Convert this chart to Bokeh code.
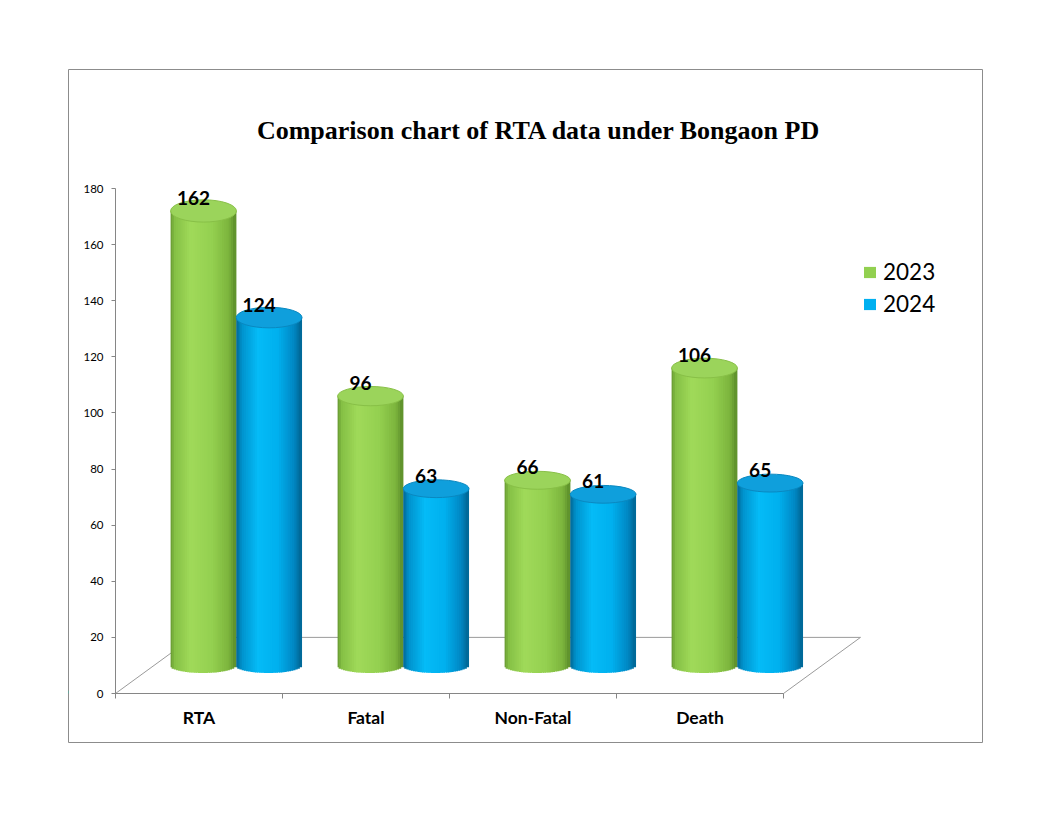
import numpy as np
from bokeh.plotting import figure
from bokeh.models import Range1d, FixedTicker, Legend, LegendItem, Label, ColumnDataSource
from bokeh.embed import file_html
from bokeh.resources import INLINE
from bokeh.core.properties import value

# ---------------- data ----------------
categories = ["RTA", "Fatal", "Non-Fatal", "Death"]
series_names = ["2023", "2024"]
values_2023 = [162, 96, 66, 106]
values_2024 = [124, 63, 61, 65]
y_ticks = [0, 20, 40, 60, 80, 100, 120, 140, 160, 180]
title_text = "Comparison chart of RTA data under Bongaon PD"

# ---------------- styling / geometry constants ----------------
W, H = 1046, 806
PX_PER_X = 167.0            # px per category slot
PX_PER_Y = 505.0 / 180.0    # px per y unit
X0, X1 = -47 / PX_PER_X, 867 / PX_PER_X
Y0, Y1 = -49 / PX_PER_Y, 624 / PX_PER_Y
DEPTH_DX = 77 / PX_PER_X    # 3-D floor depth (x)
DEPTH_DY = 20               # 3-D floor depth (y units)
BASE = DEPTH_DY / 2         # bars stand mid-depth
SHIFT = [0.527, 0.920]      # bar centre offsets within slot
BAR_W = 0.394
NSTRIP = 30
OVERLAP = 0.007

green_stops = [(-1.0, "#5f8f2c"), (-0.85, "#84bf44"), (-0.35, "#a0da5a"),
               (0.3, "#94d050"), (0.8, "#7cb53d"), (1.0, "#5c8d2a")]
blue_stops = [(-1.0, "#005a84"), (-0.8, "#0092cc"), (-0.3, "#05bbf7"),
              (0.3, "#00b0ee"), (0.8, "#0086c2"), (1.0, "#006592")]
top_colors = ["#9bd45b", "#0f9fdc"]
top_lines = ["#88c047", "#0a88c0"]
legend_colors = ["#92D050", "#00B0F0"]


def hex2rgb(h):
    h = h.lstrip("#")
    return np.array([int(h[i:i + 2], 16) for i in (0, 2, 4)], dtype=float)


def shade(stops, u):
    us = [s[0] for s in stops]
    cs = np.array([hex2rgb(s[1]) for s in stops])
    rgb = [np.interp(u, us, cs[:, k]) for k in range(3)]
    return "#%02x%02x%02x" % tuple(int(round(c)) for c in rgb)


p = figure(width=W, height=H, output_backend="svg", toolbar_location=None,
           x_range=Range1d(X0, X1), y_range=Range1d(Y0, Y1),
           min_border_left=68, min_border_right=64, min_border_top=69,
           min_border_bottom=64)
p.grid.visible = False
p.outline_line_color = "#8c8c8c"
p.outline_line_width = 1
p.background_fill_color = "white"
p.border_fill_color = "white"

# floor (3-D base)
n_cat = len(categories)
p.patch([0, n_cat, n_cat + DEPTH_DX, DEPTH_DX], [0, 0, DEPTH_DY, DEPTH_DY],
        fill_alpha=0, line_color="#9a9a9a", line_width=1)

# cylinders
series_vals = [values_2023, values_2024]
legend_items = []
for s, vals in enumerate(series_vals):
    stops = green_stops if s == 0 else blue_stops
    left, right, bottom, top, color = [], [], [], [], []
    cx_list, top_list, eh_list = [], [], []
    for i, v in enumerate(vals):
        cx = i + SHIFT[s]
        ytop = BASE + v
        for k in range(NSTRIP):
            u0 = -1 + 2 * k / NSTRIP
            u1 = -1 + 2 * (k + 1) / NSTRIP
            um = (u0 + u1) / 2
            left.append(cx + u0 * BAR_W / 2 - (OVERLAP if k > 0 else 0))
            right.append(cx + u1 * BAR_W / 2)
            bottom.append(BASE - 7.5 * np.sqrt(max(0.0, 1 - um * um)) / PX_PER_Y)
            top.append(ytop)
            color.append(shade(stops, um))
        cx_list.append(cx)
        top_list.append(ytop)
        eh_list.append(2 * (7.5 + 0.008 * v * PX_PER_Y))
    src = ColumnDataSource(dict(left=left, right=right, bottom=bottom, top=top, color=color))
    p.quad(left="left", right="right", bottom="bottom", top="top", fill_color="color",
           line_color=None, source=src)
    tsrc = ColumnDataSource(dict(x=cx_list, y=top_list, h=eh_list,
                                 lab=[str(v) for v in vals]))
    p.ellipse(x="x", y="y", width=BAR_W, height="h", height_units="screen",
              fill_color=top_colors[s], line_color=top_lines[s], line_width=1, source=tsrc)
    p.text(x="x", y="y", text="lab", source=tsrc, x_offset=-10, y_offset=-13,
           text_align="center", text_baseline="middle", text_font=value("Lato"),
           text_font_style="bold", text_font_size="19px", text_color="black")
    # legend swatch renderer (kept outside the visible range)
    dummy = p.vbar(x=[-5], top=[1], width=0.1, fill_color=legend_colors[s], line_color=None)
    legend_items.append(LegendItem(label=series_names[s], renderers=[dummy]))

legend = Legend(items=legend_items, location=(794, 425), orientation="vertical",
                label_text_font="Lato", label_text_font_size="22.5px",
                label_text_color="black", glyph_width=15, glyph_height=14,
                label_height=26, spacing=5, padding=0, margin=0,
                label_standoff=6, border_line_color=None, background_fill_alpha=0)
p.add_layout(legend)

# axes
yax = p.yaxis[0]
yax.fixed_location = 0
yax.bounds = (0, 180)
yax.ticker = FixedTicker(ticks=y_ticks)
yax.axis_line_color = "#868686"
yax.major_tick_line_color = "#868686"
yax.major_tick_out = 4
yax.major_tick_in = 0
yax.minor_tick_line_color = None
yax.major_label_standoff = 8
yax.major_label_text_font = "Lato"
yax.major_label_text_font_size = "11.5px"
yax.major_label_text_color = "black"

xax = p.xaxis[0]
xax.fixed_location = 0
xax.bounds = (0, n_cat)
xax.ticker = FixedTicker(ticks=[i + 0.5 for i in range(n_cat)],
                         minor_ticks=list(range(n_cat + 1)))
xax.major_label_overrides = {i + 0.5: c for i, c in enumerate(categories)}
xax.axis_line_color = "#868686"
xax.major_tick_line_color = None
xax.major_tick_out = 0
xax.minor_tick_line_color = "#868686"
xax.minor_tick_out = 5
xax.minor_tick_in = 0
xax.major_label_standoff = 8
xax.major_label_text_font = "Lato"
xax.major_label_text_font_style = "bold"
xax.major_label_text_font_size = "17.5px"
xax.major_label_text_color = "black"

# title inside the chart box
p.add_layout(Label(x=(538.5 - 115) / PX_PER_X, y=(693 - 130) / PX_PER_Y, text=title_text,
                   text_align="center", text_baseline="alphabetic",
                   text_font="Liberation Serif", text_font_style="bold",
                   text_font_size="26px", text_color="black"))

open("out.html", "w").write(file_html(p, INLINE))
